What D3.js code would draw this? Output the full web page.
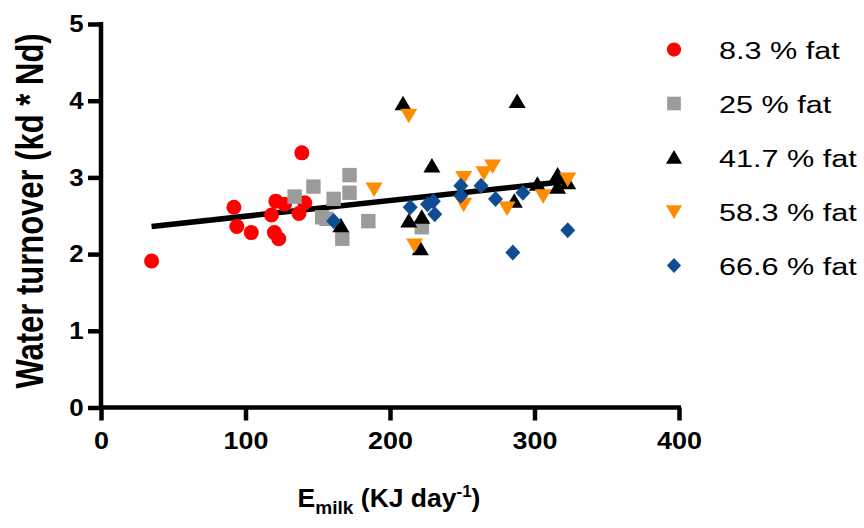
<!DOCTYPE html>
<html lang="en">
<head>
<meta charset="utf-8">
<title>Water turnover vs E milk</title>
<style>
  body { margin: 0; background: #fff; }
  svg text { font-family: "Liberation Sans", Arial, sans-serif; fill: #000; }
  .axis path, .axis line { stroke: #000; stroke-width: 4.5; }
  .axis text { font-size: 24px; font-weight: bold; }
</style>
</head>
<body>
<svg id="chart" width="864" height="528"></svg>
<script src="https://cdn.jsdelivr.net/npm/d3@7"></script>
<script>
// series: [E milk, water turnover]
var fat83 = [[35,1.91],[92,2.61],[94,2.36],[104,2.28],[118,2.51],[121,2.69],[127,2.65],
             [120,2.28],[123,2.20],[137,2.53],[141,2.67],[139,3.32]];
var fat25 = [[134,2.75],[147,2.88],[153,2.48],[161,2.72],[156,2.46],[172,3.03],[172,2.80],
             [167,2.20],[185,2.43],[222,2.35]];
var fat417 = [[209,3.96],[288,3.99],[229,3.15],[166,2.37],[213,2.43],[222,2.48],[221,2.07],
              [286,2.69],[302,2.91],[316,3.03],[316,2.87],[323,2.93]];
var fat583 = [[189,2.85],[213,3.81],[217,2.12],[251,3.00],[265,3.06],[271,3.15],[251,2.65],
              [281,2.60],[306,2.76],[323,2.98]];
var fat666 = [[161,2.43],[214,2.61],[226,2.65],[230,2.69],[231,2.52],[249,2.89],[249,2.76],
              [263,2.89],[273,2.72],[292,2.80],[285,2.02],[323,2.31]];

var seriesNames = ["8.3 % fat", "25 % fat", "41.7 % fat", "58.3 % fat", "66.6 % fat"];
var seriesColors = ["#ff0000", "#9b9b9b", "#000000", "#ff8c00", "#0f4c93"];
var seriesShapes = ["circle", "square", "triangle", "triangleDown", "diamond"];
var seriesData = [fat83, fat25, fat417, fat583, fat666];

// linear fit: x range and fitted y values
var fitX = [35, 323];
var fitY = [2.36, 2.95];

var xTicks = [0, 100, 200, 300, 400];
var yTicks = [0, 1, 2, 3, 4, 5];

// the original figure is stretched sideways, so text is too
var sx = 1.24;

var svg = d3.select("#chart");
var pLeft = 101, pRight = 679, pTop = 24, pBottom = 407.5;

var x = d3.scaleLinear().domain([0, 400]).range([pLeft, pRight]);
var y = d3.scaleLinear().domain([0, 5]).range([pBottom, pTop]);

// marker shapes, k scales them down for the legend
function shapePath(shape, k) {
  var p = d3.path();
  if (shape == "circle") { p.arc(0, 0, 7.5 * k, 0, 2 * Math.PI); }
  else if (shape == "square") { var h = 7.2 * k; p.rect(-h, -h, 2 * h, 2 * h); }
  else if (shape == "triangle") {
    p.moveTo(0, -8 * k); p.lineTo(8.5 * k, 6.5 * k); p.lineTo(-8.5 * k, 6.5 * k); p.closePath();
  } else if (shape == "triangleDown") {
    p.moveTo(0, 8 * k); p.lineTo(8.5 * k, -6.5 * k); p.lineTo(-8.5 * k, -6.5 * k); p.closePath();
  } else {
    p.moveTo(0, -8 * k); p.lineTo(7.5 * k, 0); p.lineTo(0, 8 * k); p.lineTo(-7.5 * k, 0); p.closePath();
  }
  return p.toString();
}

// fit line under the points
svg.append("line")
  .attr("x1", x(fitX[0])).attr("y1", y(fitY[0]))
  .attr("x2", x(fitX[1])).attr("y2", y(fitY[1]))
  .attr("stroke", "#000").attr("stroke-width", 5.5);

seriesData.forEach(function(data, i) {
  svg.append("g").selectAll("path")
    .data(data)
    .enter().append("path")
    .attr("d", shapePath(seriesShapes[i], 1))
    .attr("transform", function(d) { return "translate(" + x(d[0]) + "," + y(d[1]) + ")"; })
    .attr("fill", seriesColors[i]);
});

// axes
var xAxis = svg.append("g").attr("class", "axis")
  .attr("transform", "translate(0," + pBottom + ")")
  .call(d3.axisBottom(x).tickValues(xTicks).tickFormat(d3.format("d"))
    .tickSizeOuter(0).tickSize(13).tickPadding(11));
var yAxis = svg.append("g").attr("class", "axis")
  .attr("transform", "translate(" + pLeft + ",0)")
  .call(d3.axisLeft(y).tickValues(yTicks).tickFormat(d3.format("d"))
    .tickSizeOuter(0).tickSize(13).tickPadding(3));
xAxis.select(".domain").attr("d", "M" + (pLeft - 2) + ",0H" + (pRight + 2));
yAxis.select(".domain").attr("d", "M0," + (pTop - 2) + "V" + (pBottom + 2));
xAxis.selectAll(".tick text").attr("transform", "scale(1.12,1)");
yAxis.selectAll(".tick text").attr("transform", "scale(1.08,1)");
svg.selectAll(".axis").attr("font-size", null).attr("font-family", null);

// axis titles
svg.append("g")
  .attr("transform", "translate(43,211) rotate(-90) scale(1," + sx + ")")
  .append("text")
  .attr("text-anchor", "middle")
  .style("font-size", "31px").style("font-weight", "bold")
  .text("Water turnover (kd * Nd)");

var xt = svg.append("g")
  .attr("transform", "translate(389,507) scale(1.06,1)")
  .append("text")
  .attr("text-anchor", "middle")
  .style("font-size", "25px").style("font-weight", "bold");
xt.append("tspan").text("E");
xt.append("tspan").attr("dy", 7).style("font-size", "18px").text("milk");
xt.append("tspan").attr("dy", -7).text(" (KJ day");
xt.append("tspan").attr("dy", -10).style("font-size", "16px").text("-1");
xt.append("tspan").attr("dy", 10).text(")");

// legend
var legend = svg.append("g").selectAll("g")
  .data(seriesNames)
  .enter().append("g")
  .attr("transform", function(d, i) { return "translate(674," + (49.5 + i * 54) + ")"; });
legend.append("path")
  .attr("d", function(d, i) { return shapePath(seriesShapes[i], 0.95); })
  .attr("fill", function(d, i) { return seriesColors[i]; });
legend.append("text")
  .attr("transform", "translate(45,9) scale(" + sx + ",1)")
  .style("font-size", "24.7px")
  .text(function(d) { return d; });
</script>
</body>
</html>
